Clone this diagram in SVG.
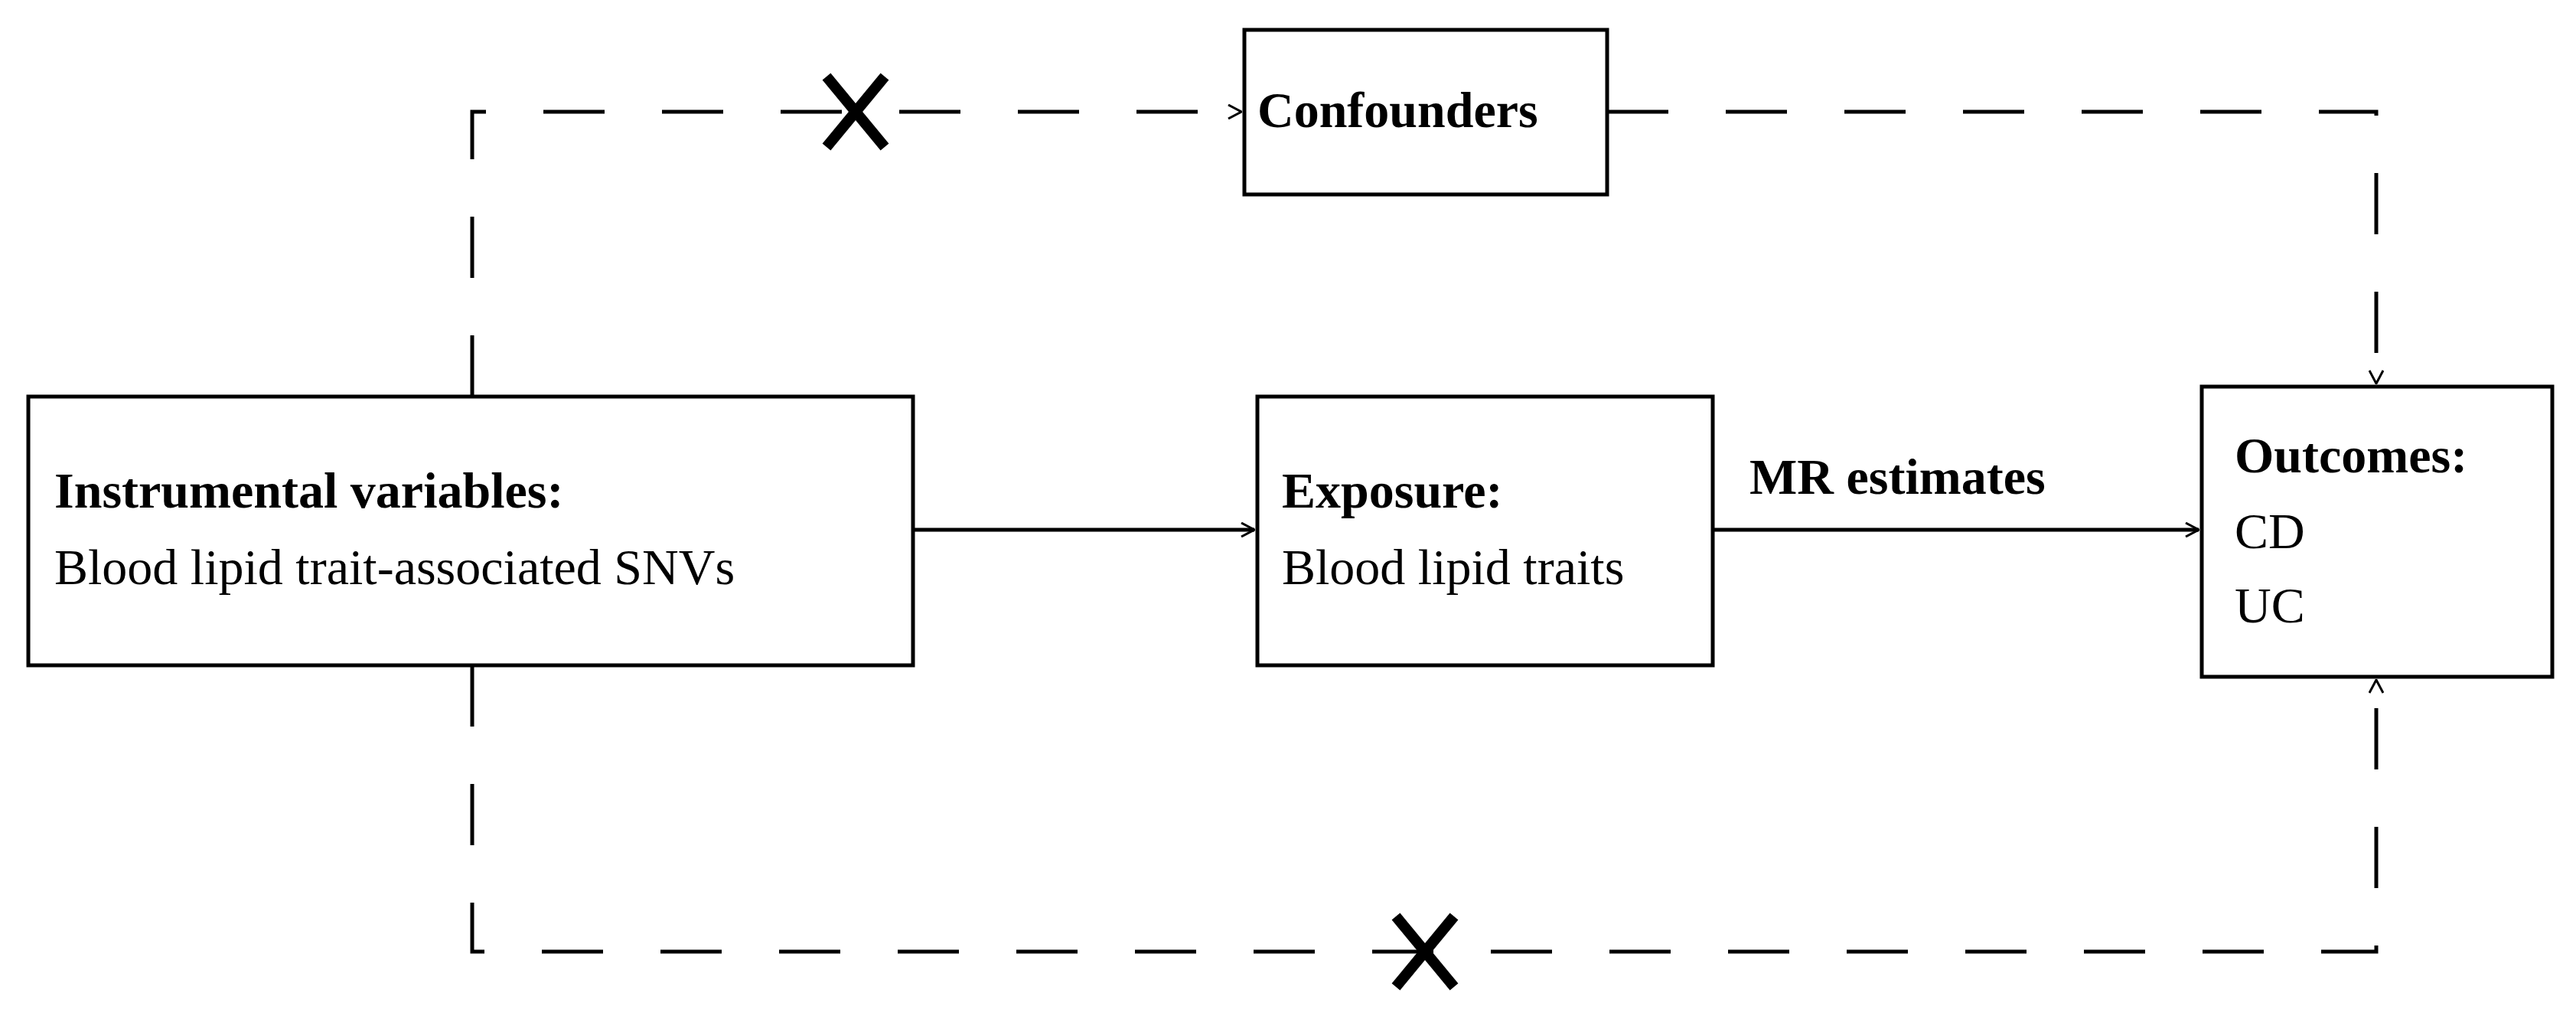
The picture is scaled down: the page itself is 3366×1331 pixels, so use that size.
<svg xmlns="http://www.w3.org/2000/svg" width="3366" height="1331" viewBox="0 0 3366 1331">
<style>
.box{fill:#fff;stroke:#000;stroke-width:5}
.t{font-family:"Liberation Serif",serif;font-size:66px;fill:#000}
.b{font-weight:bold}
.d{fill:none;stroke:#000;stroke-width:5;stroke-dasharray:80 75}
.s{fill:none;stroke:#000;stroke-width:5}
.x{stroke:#000;stroke-width:14;stroke-linecap:butt}
</style>
<defs>
<marker id="a" viewBox="0 0 20 20" refX="19" refY="10" markerWidth="20" markerHeight="20" markerUnits="userSpaceOnUse" orient="auto"><path d="M2,1 L19,10 L2,19" fill="none" stroke="#000" stroke-width="3"/></marker>
</defs>
<rect width="3366" height="1331" fill="#fff"/>
<g id="connectors">
<path class="d" d="M617,518 V146 H1622" marker-end="url(#a)"/>
<path class="d" d="M2100,146 H3105 V501" marker-end="url(#a)"/>
<path class="d" d="M617,869 V1243 H3105 V888" marker-end="url(#a)"/>
<path class="s" d="M1193,692 H1639" marker-end="url(#a)"/>
<path class="s" d="M2238,692 H2873" marker-end="url(#a)"/>
<line class="x" x1="1080" y1="100" x2="1156" y2="192"/>
<line class="x" x1="1156" y1="100" x2="1080" y2="192"/>
<line class="x" x1="1824" y1="1197" x2="1900" y2="1289"/>
<line class="x" x1="1900" y1="1197" x2="1824" y2="1289"/>
<text class="t b" x="2286" y="645">MR estimates</text>
</g>
<g id="confounders"><rect class="box" x="1626" y="39" width="474" height="215"/><text class="t b" x="1643" y="166">Confounders</text></g>
<g id="iv"><rect class="box" x="37" y="518" width="1156" height="351"/><text class="t b" x="71" y="663">Instrumental variables:</text><text class="t" x="71" y="763">Blood lipid trait-associated SNVs</text></g>
<g id="exposure"><rect class="box" x="1643" y="518" width="595" height="351"/><text class="t b" x="1675" y="663">Exposure:</text><text class="t" x="1675" y="763">Blood lipid traits</text></g>
<g id="outcomes"><rect class="box" x="2877" y="505" width="458" height="379"/><text class="t b" x="2920" y="617">Outcomes:</text><text class="t" x="2920" y="716">CD</text><text class="t" x="2920" y="813">UC</text></g>
</svg>
